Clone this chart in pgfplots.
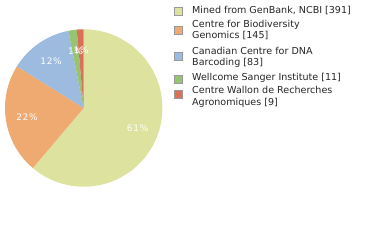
\documentclass[border=0pt]{standalone}
\usepackage{pgfplots}
\usepackage{pgfplotstable}
\pgfplotsset{compat=1.18}
\usepackage{fontspec}
\setmainfont{DejaVu Sans}
\definecolor{c1}{RGB}{221,226,159}
\definecolor{c2}{RGB}{238,170,112}
\definecolor{c3}{RGB}{157,186,223}
\definecolor{c4}{RGB}{150,196,112}
\definecolor{c5}{RGB}{218,112,87}
\pgfplotstableread{
value col
391 c1
145 c2
83 c3
11 c4
9 c5
}\piedata
\begin{document}
\begin{tikzpicture}[x=1bp,y=1bp]
\useasboundingbox (0,0) rectangle (380,240);
\begin{axis}[at={(83.7bp,132bp)}, anchor=center, width=157.4bp, height=157.4bp,
  scale only axis, xmin=-1, xmax=1, ymin=-1, ymax=1, hide axis, clip=false]
\def\total{639}
\xdef\startang{90}
\pgfplotsforeachungrouped \i in {0,...,4}{%
  \pgfplotstablegetelem{\i}{value}\of\piedata \let\val\pgfplotsretval
  \pgfplotstablegetelem{\i}{col}\of\piedata \let\col\pgfplotsretval
  \pgfmathsetmacro\endang{\startang-\val/\total*360}%
  \edef\cmd{\noexpand\fill[\col] (axis cs:0,0) -- ++(\startang:78.7bp) arc[start angle=\startang, end angle=\endang, radius=78.7bp] -- cycle;}%
  \cmd
  \xdef\startang{\endang}%
}
\xdef\startang{90}
\pgfplotsforeachungrouped \i in {0,...,4}{%
  \pgfplotstablegetelem{\i}{value}\of\piedata \let\val\pgfplotsretval
  \pgfmathsetmacro\endang{\startang-\val/\total*360}%
  \pgfmathsetmacro\midang{(\startang+\endang)/2}%
  \pgfmathtruncatemacro\pct{\val/\total*100}%
  \edef\cmd{\noexpand\node[text=white, inner sep=0pt, font=\noexpand\fontsize{9}{10}\noexpand\selectfont\noexpand\addfontfeature{LetterSpace=8}] at (axis cs:{0.73*cos(\midang)},{0.73*sin(\midang)}) {\pct\noexpand\%};}%
  \cmd
  \xdef\startang{\endang}%
}
\end{axis}
\begin{scope}[every node/.style={anchor=base west, inner sep=0pt, font=\fontsize{9.6}{11}\selectfont, text=black!85}]
\draw[fill=c1, draw=gray!80] (174,225) rectangle (182,233);
\node at (192,227) {Mined from GenBank, NCBI [391]};
\draw[fill=c2, draw=gray!80] (174,206) rectangle (182,214);
\node at (192,213) {Centre for Biodiversity};
\node at (192,201.5) {Genomics [145]};
\draw[fill=c3, draw=gray!80] (174,180) rectangle (182,188);
\node at (192,186) {Canadian Centre for DNA};
\node at (192,175) {Barcoding [83]};
\draw[fill=c4, draw=gray!80] (174,157) rectangle (182,165);
\node at (192,159.3) {Wellcome Sanger Institute [11]};
\draw[fill=c5, draw=gray!80] (174,142) rectangle (182,150);
\node at (192,147) {Centre Wallon de Recherches};
\node at (192,135) {Agronomiques [9]};
\end{scope}
\end{tikzpicture}
\end{document}
